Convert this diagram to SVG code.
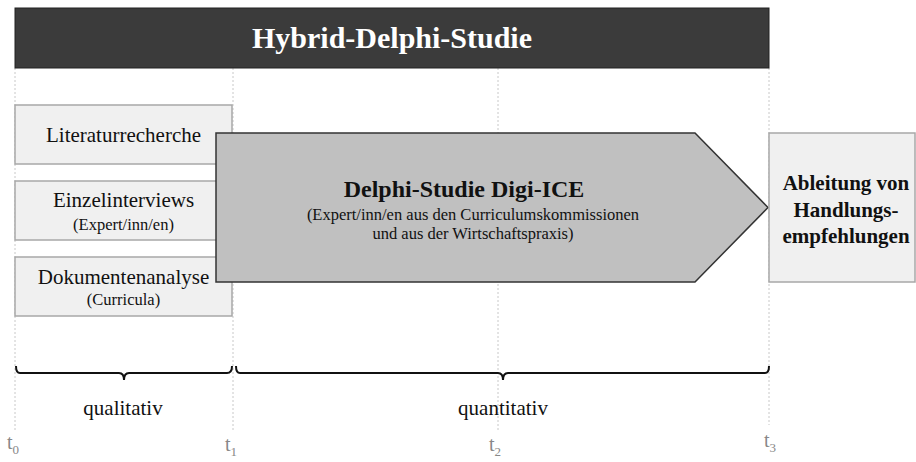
<svg xmlns="http://www.w3.org/2000/svg" width="916" height="462" viewBox="0 0 916 462">
  <style>
    .guide { stroke: #c8c8c8; stroke-width: 1; stroke-dasharray: 2 2; fill: none; }
    .box { fill: #f0f0f0; stroke: #a8a8a8; stroke-width: 1.5; }
    .serif { font-family: "Liberation Serif", "Times New Roman", serif; }
    .lbl { font-size: 21px; fill: #111; text-anchor: middle; }
    .sub { font-size: 16.5px; fill: #111; text-anchor: middle; }
    .brace { fill: none; stroke: #111; stroke-width: 2; }
    .tick { font-size: 20px; fill: #888; }
    .tsub { font-size: 13px; fill: #888; }
  </style>

  <!-- time guides -->
  <g id="guides">
    <line class="guide" x1="15" y1="68" x2="15" y2="432"/>
    <line class="guide" x1="233" y1="68" x2="233" y2="432"/>
    <line class="guide" x1="498" y1="68" x2="498" y2="432"/>
    <line class="guide" x1="769" y1="68" x2="769" y2="425"/>
  </g>

  <g id="header">
    <rect x="15" y="8" width="754" height="60" fill="#3b3b3b" stroke="#222" stroke-width="1"/>
    <text class="serif" x="392" y="48" font-size="30" font-weight="bold" fill="#fff" text-anchor="middle">Hybrid-Delphi-Studie</text>
  </g>

  <g id="literaturrecherche">
    <rect class="box" x="15" y="105" width="217" height="59"/>
    <text class="serif lbl" x="123.5" y="142">Literaturrecherche</text>
  </g>

  <g id="einzelinterviews">
    <rect class="box" x="15" y="181" width="217" height="59"/>
    <text class="serif lbl" x="123.5" y="207">Einzelinterviews</text>
    <text class="serif sub" x="123.5" y="230">(Expert/inn/en)</text>
  </g>

  <g id="dokumentenanalyse">
    <rect class="box" x="15" y="257" width="217" height="59"/>
    <text class="serif lbl" x="123.5" y="284">Dokumentenanalyse</text>
    <text class="serif sub" x="123.5" y="305">(Curricula)</text>
  </g>

  <g id="delphi">
    <polygon points="216,133 695,133 768,207.5 695,282 216,282" fill="#c0c0c0" stroke="#333" stroke-width="1.5"/>
    <text class="serif" x="464" y="197" font-size="24" font-weight="bold" fill="#111" text-anchor="middle">Delphi-Studie Digi-ICE</text>
    <text class="serif" x="473" y="220" font-size="16.5" fill="#111" text-anchor="middle">(Expert/inn/en aus den Curriculumskommissionen</text>
    <text class="serif" x="473" y="239" font-size="16.5" fill="#111" text-anchor="middle">und aus der Wirtschaftspraxis)</text>
  </g>

  <g id="ableitung">
    <rect x="769" y="133" width="146" height="149" fill="#f0f0f0" stroke="#a8a8a8" stroke-width="1.5"/>
    <text class="serif" x="846" y="190" font-size="21" font-weight="bold" fill="#111" text-anchor="middle">Ableitung von</text>
    <text class="serif" x="846" y="217" font-size="21" font-weight="bold" fill="#111" text-anchor="middle">Handlungs-</text>
    <text class="serif" x="846" y="243" font-size="21" font-weight="bold" fill="#111" text-anchor="middle">empfehlungen</text>
  </g>

  <!-- phase braces -->
  <g id="connectors">
    <path class="brace" d="M16,366 Q16,373 20,373 L119,373 Q124,373 124,380 Q124,373 129,373 L227,373 Q232,373 232,366"/>
    <path class="brace" d="M236,366 Q236,373 240,373 L498,373 Q503,373 503,380 Q503,373 508,373 L765,373 Q769,373 769,366"/>
  </g>

  <g id="phase-labels">
    <text class="serif lbl" x="123" y="415">qualitativ</text>
    <text class="serif lbl" x="503" y="415">quantitativ</text>
  </g>

  <g id="time-marks">
    <text class="serif tick" x="7" y="449">t<tspan class="tsub" dy="5">0</tspan></text>
    <text class="serif tick" x="225" y="451">t<tspan class="tsub" dy="5">1</tspan></text>
    <text class="serif tick" x="489" y="451">t<tspan class="tsub" dy="5">2</tspan></text>
    <text class="serif tick" x="764" y="447">t<tspan class="tsub" dy="5">3</tspan></text>
  </g>
</svg>
